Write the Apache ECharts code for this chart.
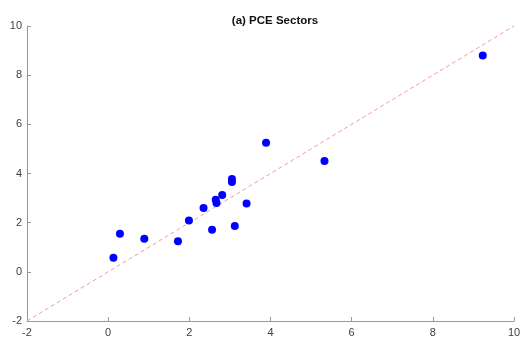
<!DOCTYPE html>
<html>
<head>
<meta charset="utf-8">
<script src="https://cdn.jsdelivr.net/npm/echarts@6/dist/echarts.min.js"></script>
<style>
  html, body { margin: 0; padding: 0; background: #fff; }
  #chart { width: 530px; height: 343px; }
</style>
</head>
<body>
<div id="chart"></div>
<script>
// Sector-level values: x vs y for each PCE sector
const sectorX = [0.13, 0.29, 0.89, 1.72, 1.99, 2.35, 2.56, 2.65, 2.67, 2.81, 3.05, 3.05, 3.12, 3.41, 3.89, 5.33, 9.23];
const sectorY = [0.57, 1.55, 1.35, 1.24, 2.09, 2.60, 1.71, 2.93, 2.80, 3.13, 3.78, 3.65, 1.86, 2.78, 5.25, 4.51, 8.80];

// Axis range and ticks (shared by both axes)
const axisMin = -2;
const axisMax = 10;
const tickStep = 2;

const titleText = '(a) PCE Sectors';

const points = sectorX.map((x, i) => [x, sectorY[i]]);
// 45-degree reference line spanning the full axis range
const diagonal = [[axisMin, axisMin], [axisMax, axisMax]];

const axisCommon = {
  type: 'value',
  min: axisMin,
  max: axisMax,
  interval: tickStep,
  splitLine: { show: false },
  axisLine: { show: true, onZero: false, lineStyle: { color: '#9a9a9a', width: 1 } },
  axisTick: { show: true, inside: true, length: 4, lineStyle: { color: '#9a9a9a' } },
  axisLabel: { color: '#404040', fontSize: 11, fontFamily: 'Liberation Sans, Arial, sans-serif' }
};

const chart = echarts.init(document.getElementById('chart'), null, { renderer: 'canvas' });
chart.setOption({
  animation: false,
  backgroundColor: '#ffffff',
  title: {
    text: titleText,
    left: 270,
    top: 10,
    textAlign: 'center',
    textStyle: { fontSize: 11.5, fontWeight: 'bold', color: '#111', fontFamily: 'Liberation Sans, Arial, sans-serif' }
  },
  grid: { left: 27, right: 16, top: 26, bottom: 22, containLabel: false },
  xAxis: Object.assign({}, axisCommon, {
    axisLabel: Object.assign({}, axisCommon.axisLabel, { margin: 6 })
  }),
  yAxis: Object.assign({}, axisCommon, {
    axisLabel: Object.assign({}, axisCommon.axisLabel, { margin: 5 })
  }),
  series: [
    {
      type: 'line',
      data: diagonal,
      symbol: 'none',
      lineStyle: { color: '#f29a9a', width: 1, type: [4, 3] },
      z: 1
    },
    {
      type: 'scatter',
      data: points,
      symbol: 'circle',
      symbolSize: 8,
      itemStyle: { color: '#0000ff', opacity: 1 },
      z: 2
    }
  ]
});
</script>
</body>
</html>
